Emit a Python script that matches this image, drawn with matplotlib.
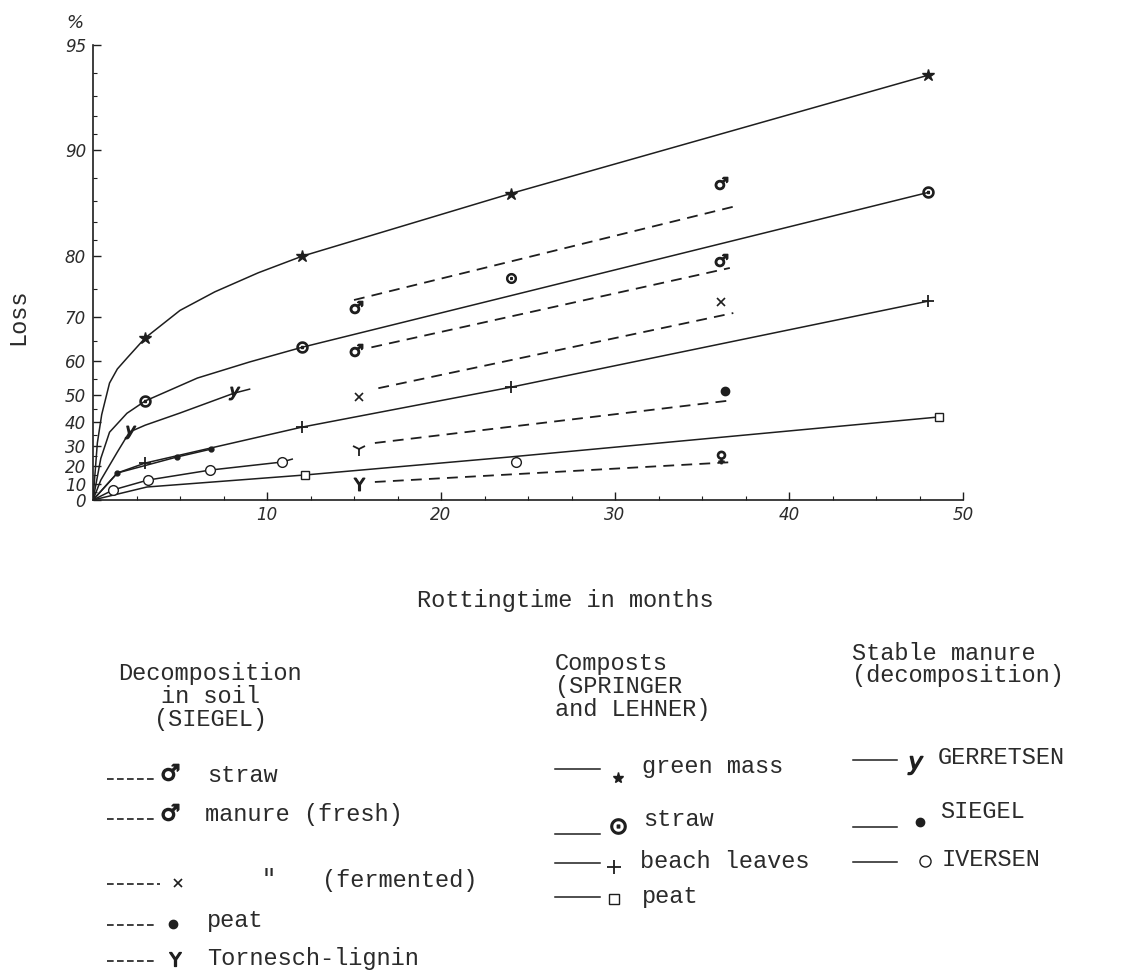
import numpy as np
import matplotlib
matplotlib.use('Agg')
import matplotlib.pyplot as plt
from matplotlib.lines import Line2D
from matplotlib.ticker import FixedLocator

#  Loss (%) of organic matter against rotting time (months)

# composts (SPRINGER and LEHNER), solid lines
green_mass_months = [0, 0.25, 0.5, 0.95, 1.4, 1.95, 3, 5, 7, 9.5, 12, 24, 48]
green_mass_loss = [0, 31.3, 43.0, 53.7, 57.8, 60.7, 65.6, 71.3, 74.6, 77.6, 79.9, 86.7, 93.9]

compost_straw_months = [0, 0.45, 0.95, 1.95, 3, 6, 9, 12, 48]
compost_straw_loss = [0, 24.0, 36.0, 43.5, 47.9, 55.2, 59.7, 63.4, 86.8]
compost_straw_extra_months = [24]
compost_straw_extra_loss = [76.8]

beach_leaves_months = [0, 1.4, 3, 12, 24, 48]
beach_leaves_loss = [0, 16.3, 21.6, 38.1, 52.4, 73.0]

compost_peat_months = [0, 3.1, 12.2, 24, 48.6]
compost_peat_loss = [0, 8.2, 15.2, 24.7, 42.1]

# stable manure, solid lines
gerretsen_months = [0, 0.45, 1.4, 2.1, 3, 5, 8.1, 9]
gerretsen_loss = [0, 12.3, 27.1, 36.1, 38.9, 43.6, 50.5, 51.8]

siegel_months = [0, 1.4, 4.8, 6.8]
siegel_loss = [0, 16.3, 24.6, 28.5]

iversen_months = [0, 1.15, 3.15, 6.75, 10.85, 11.45]
iversen_loss = [0, 6.4, 12.3, 17.9, 22.1, 23.6]
iversen_extra_months = [24.3]
iversen_extra_loss = [22.1]

# decomposition in soil (SIEGEL), dashed lines: line ends and measured points
soil_straw_months = [15, 36.8]
soil_straw_loss = [73.2, 85.5]
soil_straw_pts_months = [15.1, 36.1]
soil_straw_pts_loss = [71.9, 87.6]

manure_fresh_months = [16, 36.6]
manure_fresh_loss = [63.4, 78.3]
manure_fresh_pts_months = [15.1, 36.1]
manure_fresh_pts_loss = [62.7, 79.4]

manure_ferm_months = [16.4, 36.8]
manure_ferm_loss = [52.1, 70.8]
manure_ferm_pts_months = [15.3, 36.1]
manure_ferm_pts_loss = [49.2, 72.8]

soil_peat_months = [16.2, 36.8]
soil_peat_loss = [31.3, 48.2]
soil_peat_pts_months = [15.3, 36.3]
soil_peat_pts_loss = [28.5, 51.2]

lignin_months = [16.2, 36.8]
lignin_loss = [11.2, 22.1]
lignin_pts_months = [15.3, 36.1]
lignin_pts_loss = [10.0, 24.6]

y_ticks = [0, 10, 20, 30, 40, 50, 60, 70, 80, 90, 95]
y_minor = [5, 15, 25, 35, 45, 55, 65, 75, 82, 84, 86, 88, 91, 92, 93, 94]
x_ticks = [10, 20, 30, 40, 50]

INK = '#1e1e1e'
TXT = '#2b2b2b'
MONO = 'Liberation Mono'
W, H = 1140, 977


def fx(px):
    return px / W


def fy(py):
    return 1 - py / H


    #  the loss axis is drawn as -log(100 - loss)

def fwd(y):
    return -np.log10(np.clip(100 - np.asarray(y, float), 1e-9, None))


def inv(v):
    return 100 - 10 ** (-np.asarray(v, float))


fig = plt.figure(figsize=(11.4, 9.77), dpi=100)
ax = fig.add_axes([fx(93), fy(500), (963 - 93) / W, (500 - 45) / H])
ax.set_yscale('function', functions=(fwd, inv))
ax.set_xlim(0, 50)
ax.set_ylim(0, 95)

solid = dict(color=INK, lw=1.1)
dashed = dict(color=INK, lw=1.3, ls=(0, (6, 4)))

ax.plot(green_mass_months, green_mass_loss, marker='*', ms=9, mfc=INK, mec=INK,
        markevery=[6, 10, 11, 12], **solid)
ax.plot(compost_straw_months, compost_straw_loss, marker='$\\odot$', ms=8, mec=INK,
        markevery=[4, 7, 8], **solid)
ax.plot(compost_straw_extra_months, compost_straw_extra_loss, ls='none', marker='$\\odot$',
        ms=7, color=INK)
ax.plot(beach_leaves_months, beach_leaves_loss, marker='+', ms=9, mew=1.3,
        markevery=[2, 3, 4, 5], **solid)
ax.plot(compost_peat_months, compost_peat_loss, marker='s', ms=5.5, mfc='white', mec=INK,
        markevery=[2, 4], **solid)
ax.plot(gerretsen_months, gerretsen_loss, marker='$y$', ms=9, mec=INK,
        markevery=[3, 6], **solid)
ax.plot(siegel_months, siegel_loss, marker='o', ms=3.5, mfc=INK, mec=INK,
        markevery=[1, 2, 3], **solid)
ax.plot(iversen_months, iversen_loss, marker='o', ms=7, mfc='white', mec=INK,
        markevery=[1, 2, 3, 4], **solid)
ax.plot(iversen_extra_months, iversen_extra_loss, ls='none', marker='o', ms=7,
        mfc='white', mec=INK)

ax.plot(soil_straw_months, soil_straw_loss, **dashed)
ax.plot(soil_straw_pts_months, soil_straw_pts_loss, ls='none', marker='$\u2642$', ms=9, color=INK)
ax.plot(manure_fresh_months, manure_fresh_loss, **dashed)
ax.plot(manure_fresh_pts_months, manure_fresh_pts_loss, ls='none', marker='$\u2642$', ms=9, color=INK)
ax.plot(manure_ferm_months, manure_ferm_loss, **dashed)
ax.plot(manure_ferm_pts_months, manure_ferm_pts_loss, ls='none', marker='x', ms=6, mew=1.2, color=INK)
ax.plot(soil_peat_months, soil_peat_loss, **dashed)
ax.plot(soil_peat_pts_months[:1], soil_peat_pts_loss[:1], ls='none', marker='1', ms=10, mew=1.3, color=INK)
ax.plot(soil_peat_pts_months[1:], soil_peat_pts_loss[1:], ls='none', marker='o', ms=6, color=INK)
ax.plot(lignin_months, lignin_loss, **dashed)
ax.plot(lignin_pts_months[:1], lignin_pts_loss[:1], ls='none', marker='$\\Upsilon$', ms=9, color=INK)
ax.plot(lignin_pts_months[1:], lignin_pts_loss[1:], ls='none', marker='$\u2640$', ms=9, color=INK)

    #  axes: only left and bottom, ticks pointing inward

for side in ['top', 'right']:
    ax.spines[side].set_visible(False)
for side in ['left', 'bottom']:
    ax.spines[side].set_linewidth(1.2)
    ax.spines[side].set_color(INK)

ax.set_yticks(y_ticks)
ax.set_yticklabels([str(t) for t in y_ticks], fontstyle='italic', fontsize=12, color=TXT)
ax.yaxis.set_minor_locator(FixedLocator(y_minor))
ax.yaxis.set_minor_formatter(plt.NullFormatter())
ax.set_xticks(x_ticks)
ax.set_xticklabels([str(t) for t in x_ticks], fontstyle='italic', fontsize=12, color=TXT)
ax.xaxis.set_minor_locator(FixedLocator(np.arange(2.5, 50, 2.5)))
ax.tick_params(axis='both', which='major', direction='in', length=6, width=1, color=INK)
ax.tick_params(axis='both', which='minor', direction='in', length=3, width=0.8, color=INK)
ax.tick_params(axis='y', which='major', pad=5)
ax.tick_params(axis='x', which='major', pad=4)

fig.text(fx(75), fy(23), '%', fontstyle='italic', fontsize=13, color=TXT, ha='center', va='center')
fig.text(fx(18), fy(317), 'Loss', family=MONO, fontsize=17, rotation=90, color=TXT,
         ha='center', va='center')
fig.text(fx(565), fy(601), 'Rottingtime in months', family=MONO, fontsize=17, color=TXT,
         ha='center', va='center')

    #  hand made key in three columns

fig.text(fx(210), fy(662), 'Decomposition\nin soil\n(SIEGEL)', family=MONO, fontsize=17,
         color=TXT, ha='center', va='top', multialignment='center', linespacing=1.0)
fig.text(fx(555), fy(652), 'Composts\n(SPRINGER\nand LEHNER)', family=MONO, fontsize=17,
         color=TXT, ha='left', va='top', linespacing=1.0)
fig.text(fx(852), fy(642), 'Stable manure\n(decomposition)', family=MONO, fontsize=17,
         color=TXT, ha='left', va='top', linespacing=0.95)


def key(x0, x1, y, style, marker, mx, my, ms, label, tx, ty, **mk):
    fig.add_artist(Line2D([fx(x0), fx(x1)], [fy(y), fy(y)], transform=fig.transFigure, **style))
    fig.add_artist(Line2D([fx(mx)], [fy(my)], transform=fig.transFigure, ls='none',
                          marker=marker, ms=ms, color=INK, **mk))
    fig.text(fx(tx), fy(ty), label, family=MONO, fontsize=17, color=TXT, ha='left', va='center')


key_dash = dict(color=INK, lw=1.2, ls=(0, (4, 2)))
key_solid = dict(color=INK, lw=1.1)

key(107, 157, 779, key_dash, '$\u2642$', 170, 772, 12, 'straw', 207, 776)
key(107, 157, 819, key_dash, '$\u2642$', 170, 812, 12, 'manure (fresh)', 205, 815)
key(107, 160, 884, key_dash, 'x', 178, 883, 6, '"', 262, 880, mew=1.2)
fig.text(fx(322), fy(880), '(fermented)', family=MONO, fontsize=17, color=TXT, ha='left', va='center')
key(107, 157, 925, key_dash, 'o', 173, 924, 6, 'peat', 207, 921)
key(107, 157, 961, key_dash, '$\\Upsilon$', 175, 959, 10, 'Tornesch-lignin', 207, 958)

key(555, 600, 769, key_solid, '*', 618, 778, 8, 'green mass', 642, 767)
key(555, 600, 834, key_solid, '$\\odot$', 618, 826, 11, 'straw', 643, 820)
key(555, 600, 863, key_solid, '+', 614, 867, 10, 'beach leaves', 640, 861, mew=1.3)
key(555, 600, 897, key_solid, 's', 614, 899, 7, 'peat', 642, 896, mfc='white')

key(853, 897, 760, key_solid, '$y$', 915, 765, 13, 'GERRETSEN', 938, 758)
key(853, 897, 827, key_solid, 'o', 920, 822, 6, 'SIEGEL', 940, 812)
key(853, 897, 862, key_solid, 'o', 925, 861, 8, 'IVERSEN', 942, 859, mfc='white')

fig.savefig('out.png', dpi=100, facecolor='white')
